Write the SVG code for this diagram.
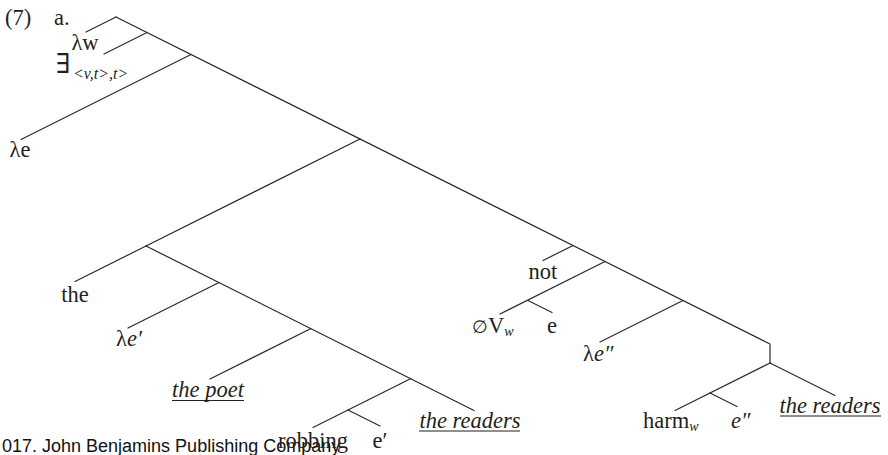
<svg xmlns="http://www.w3.org/2000/svg" width="888" height="455" viewBox="0 0 888 455">
<style>
.l{stroke:#2a2a2a;stroke-width:1.2;fill:none;stroke-linecap:round}
text{font-family:"Liberation Serif","DejaVu Serif",serif;font-size:22.5px;fill:#231f20}
.i{font-style:italic}
.m{text-anchor:middle}
.sub{font-size:14px;font-style:italic}
.wm{font-family:"Liberation Sans",Arial,sans-serif;font-size:18px;fill:#111}
.u{stroke:#231f20;stroke-width:1.2}
</style>
<rect width="888" height="455" fill="#fff"/>
<text class="wm" x="2" y="452">017. John Benjamins Publishing Company</text>
<g id="connectors" class="l">
<path d="M116,17 L770,344 L770,363"/>
<path d="M116,17 L86,32"/>
<path d="M147,32.5 L104,54"/>
<path d="M191,54.5 L21,139.5"/>
<path d="M360,139 L146,246"/>
<path d="M146,246 L75,281.5"/>
<path d="M146,246 L474,410.5"/>
<path d="M219,282.5 L128,328"/>
<path d="M311,328.5 L210,379"/>
<path d="M411,378.5 L313,427.5"/>
<path d="M348,410 L380,426"/>
<path d="M573,245.5 L543,260.5"/>
<path d="M605,261.5 L500,314"/>
<path d="M528,300.5 L552,312.5"/>
<path d="M683,300.5 L600,342"/>
<path d="M770,363 L675,410.5"/>
<path d="M710,393 L737,406.5"/>
<path d="M770,363 L835,395.5"/>
</g>
<g id="label-7"><text x="5" y="25">(7)</text><text x="54" y="25">a.</text></g>
<g id="n-lw"><text class="m" x="85" y="50">λw</text></g>
<g id="n-exists"><text x="56" y="73" style="font-size:27px">∃</text><text class="sub" x="73" y="79" style="font-size:16px">&lt;v,t&gt;,t&gt;</text></g>
<g id="n-le"><text class="m" x="20" y="157">λe</text></g>
<g id="n-the"><text class="m" x="75" y="302">the</text></g>
<g id="n-le1"><text x="116" y="346">λ<tspan class="i">e′</tspan></text></g>
<g id="n-thepoet"><text class="i m" x="208" y="397">the poet</text><line class="u" x1="172" y1="400.5" x2="244" y2="400.5"/></g>
<g id="n-robbing"><text class="m" x="313" y="448">robbing</text></g>
<g id="n-e1"><text class="m" x="380" y="448">e′</text></g>
<g id="n-readers1"><text class="i m" x="470" y="428">the readers</text><line class="u" x1="419" y1="431" x2="520" y2="431"/></g>
<g id="n-not"><text class="m" x="543" y="279">not</text></g>
<g id="n-0v"><text x="472" y="333"><tspan style="font-size:18px">∅</tspan>V<tspan class="sub" dy="3">w</tspan></text></g>
<g id="n-e"><text class="m" x="552" y="333">e</text></g>
<g id="n-le2"><text x="583" y="361">λ<tspan class="i">e″</tspan></text></g>
<g id="n-harm"><text x="643" y="428">harm<tspan class="sub" dy="3">w</tspan></text></g>
<g id="n-e2"><text class="i" x="731" y="428">e″</text></g>
<g id="n-readers2"><text class="i m" x="830" y="413">the readers</text><line class="u" x1="780" y1="416" x2="881" y2="416"/></g>
</svg>
